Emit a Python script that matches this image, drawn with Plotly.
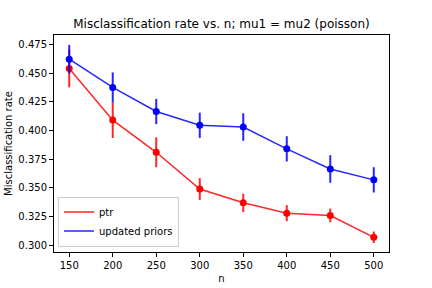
import plotly.graph_objects as go

n_values = [150, 200, 250, 300, 350, 400, 450, 500]
ptr_rate = [0.454, 0.409, 0.381, 0.349, 0.337, 0.328, 0.326, 0.307]
ptr_err = [0.0165, 0.0155, 0.013, 0.0095, 0.008, 0.007, 0.006, 0.005]
upd_rate = [0.462, 0.4375, 0.4165, 0.4045, 0.403, 0.384, 0.3665, 0.357]
upd_err = [0.0125, 0.013, 0.011, 0.011, 0.012, 0.011, 0.012, 0.011]

RED = "#ff0000"
BLUE = "#0000ff"
FONT = "DejaVu Sans"

fig = go.Figure()


def add_series(y, err, color, alpha_color, name):
    fig.add_trace(go.Scatter(
        x=n_values, y=y, mode="markers",
        marker=dict(color=color, size=7),
        error_y=dict(type="data", array=err, visible=True, width=0,
                     thickness=2, color=alpha_color),
        showlegend=False, hoverinfo="skip",
    ))
    fig.add_trace(go.Scatter(
        x=n_values, y=y, mode="lines",
        line=dict(color=alpha_color, width=1.5),
        name=name,
    ))


add_series(ptr_rate, ptr_err, RED, "rgba(255,0,0,0.85)", "ptr")
add_series(upd_rate, upd_err, BLUE, "rgba(0,0,255,0.85)", "updated priors")

axis_common = dict(
    showline=True, linecolor="black", linewidth=1, mirror=True,
    ticks="outside", ticklen=4, tickcolor="black", tickwidth=1,
    showgrid=False, zeroline=False, automargin=False,
    tickfont=dict(family=FONT, size=10, color="black"),
)

fig.update_layout(
    width=432, height=288,
    margin=dict(l=54, r=43, t=35, b=36),
    paper_bgcolor="white", plot_bgcolor="white",
    font=dict(family=FONT, size=10, color="black"),
    title=dict(text="Misclassification rate vs. n; mu1 = mu2 (poisson)",
               x=(54 + 335 / 2) / 432, xanchor="center",
               y=1 - 24 / 288, yanchor="middle",
               font=dict(family=FONT, size=12, color="black")),
    xaxis=dict(**axis_common, range=[132.5, 517.5],
               tickvals=[150, 200, 250, 300, 350, 400, 450, 500],
               title=dict(text="n", standoff=4,
                          font=dict(family=FONT, size=10, color="black"))),
    yaxis=dict(**axis_common, range=[0.2942, 0.4831],
               tickvals=[0.300, 0.325, 0.350, 0.375, 0.400, 0.425, 0.450, 0.475],
               tickformat=".3f",
               title=dict(text="Misclassification rate", standoff=3,
                          font=dict(family=FONT, size=10, color="black"))),
    legend=dict(x=0.012, y=0.025, xanchor="left", yanchor="bottom",
                bgcolor="rgba(255,255,255,0.8)", bordercolor="#cccccc",
                borderwidth=1, font=dict(family=FONT, size=10, color="black"),
                itemwidth=30, tracegroupgap=0),
    showlegend=True,
)

fig.write_html("out.html",
               config={"displayModeBar": False},
               post_script="document.body.style.margin='0px';document.body.style.overflow='hidden';")
